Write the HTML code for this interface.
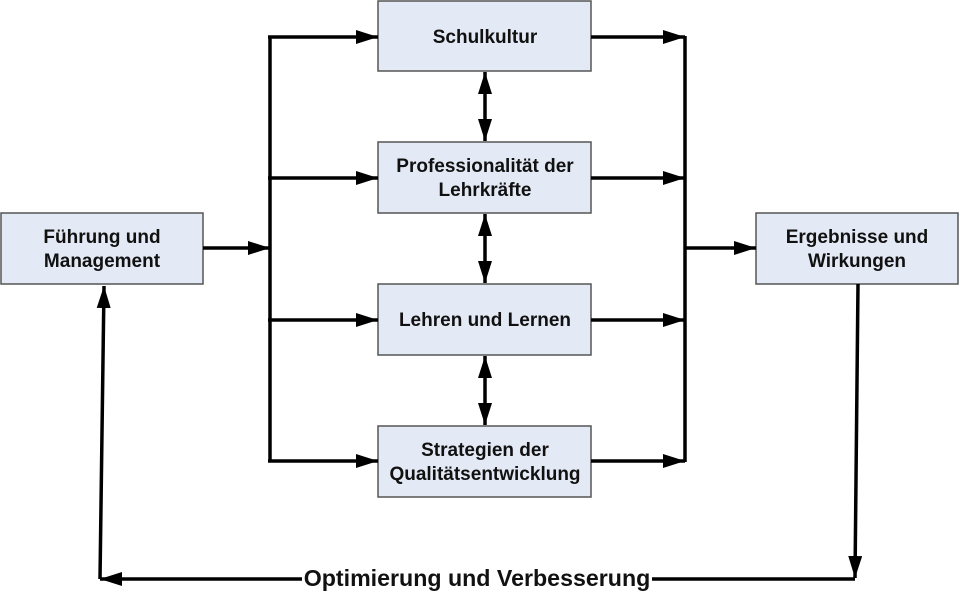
<!DOCTYPE html>
<html><head><meta charset="utf-8"><style>
html,body{margin:0;padding:0;background:#fff;}
svg{display:block;}
text{font-family:"Liberation Sans",Arial,sans-serif;font-weight:bold;font-size:19px;fill:#111;text-anchor:middle;}
</style></head><body>
<svg width="960" height="594" viewBox="0 0 960 594" xmlns="http://www.w3.org/2000/svg">
<defs>
<marker id="b" markerWidth="22" markerHeight="14" refX="22" refY="7" orient="auto-start-reverse" markerUnits="userSpaceOnUse" viewBox="0 0 22 14">
<path d="M0,0 L22,7 L0,14 z" fill="#000"/></marker>
</defs>
<g fill="#e4eaf5" stroke="#555" stroke-width="1.5">
<rect x="1" y="213" width="202" height="71"/>
<rect x="378" y="1" width="213" height="70"/>
<rect x="378" y="142" width="213" height="71"/>
<rect x="378" y="284" width="213" height="71"/>
<rect x="378" y="426" width="213" height="71"/>
<rect x="756" y="213" width="202" height="71"/>
</g>
<g stroke="#000" stroke-width="3.5" fill="none">
<line x1="270" y1="36" x2="270" y2="462"/>
<line x1="685" y1="36" x2="685" y2="462"/>
<line x1="203" y1="248" x2="270" y2="248" marker-end="url(#b)"/>
<line x1="268" y1="37" x2="378" y2="37" marker-end="url(#b)"/>
<line x1="268" y1="178" x2="378" y2="178" marker-end="url(#b)"/>
<line x1="268" y1="320" x2="378" y2="320" marker-end="url(#b)"/>
<line x1="268" y1="461" x2="378" y2="461" marker-end="url(#b)"/>
<line x1="591" y1="37" x2="685" y2="37" marker-end="url(#b)"/>
<line x1="591" y1="178" x2="685" y2="178" marker-end="url(#b)"/>
<line x1="591" y1="320" x2="685" y2="320" marker-end="url(#b)"/>
<line x1="591" y1="461" x2="685" y2="461" marker-end="url(#b)"/>
<line x1="685" y1="248" x2="756" y2="248" marker-end="url(#b)"/>
<line x1="485" y1="72" x2="485" y2="141" marker-start="url(#b)" marker-end="url(#b)"/>
<line x1="485" y1="214" x2="485" y2="283" marker-start="url(#b)" marker-end="url(#b)"/>
<line x1="485" y1="356" x2="485" y2="425" marker-start="url(#b)" marker-end="url(#b)"/>
<line x1="858" y1="284" x2="855" y2="578" marker-end="url(#b)"/>
<line x1="855" y1="579" x2="100" y2="579" marker-end="url(#b)"/>
<line x1="100" y1="579" x2="104" y2="286" marker-end="url(#b)"/>
</g>
<rect x="302" y="566" width="350" height="26" fill="#fff"/>
<text x="477" y="586" style="font-size:23.2px">Optimierung und Verbesserung</text>
<text x="102" y="243">Führung und</text>
<text x="102" y="267">Management</text>
<text x="485" y="43">Schulkultur</text>
<text x="485" y="172">Professionalität der</text>
<text x="485" y="196">Lehrkräfte</text>
<text x="485" y="326">Lehren und Lernen</text>
<text x="485" y="456">Strategien der</text>
<text x="485" y="480">Qualitätsentwicklung</text>
<text x="857" y="243">Ergebnisse und</text>
<text x="857" y="267">Wirkungen</text>
</svg>
</body></html>
